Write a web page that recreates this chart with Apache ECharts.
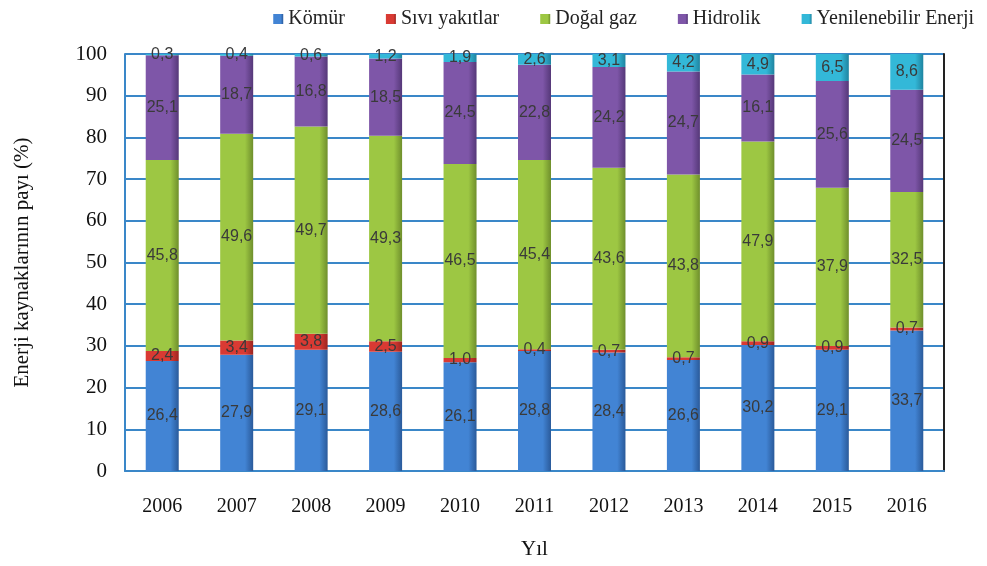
<!DOCTYPE html>
<html>
<head>
<meta charset="utf-8">
<script src="https://cdn.jsdelivr.net/npm/echarts@6/dist/echarts.min.js"></script>
<style>
html,body{margin:0;padding:0;background:#fff;}
#chart{width:987px;height:566px;}
</style>
</head>
<body>
<div id="chart"></div>
<script>
var years = ['2006','2007','2008','2009','2010','2011','2012','2013','2014','2015','2016'];
var komur = [26.4, 27.9, 29.1, 28.6, 26.1, 28.8, 28.4, 26.6, 30.2, 29.1, 33.7];
var sivi = [2.4, 3.4, 3.8, 2.5, 1.0, 0.4, 0.7, 0.7, 0.9, 0.9, 0.7];
var dogalgaz = [45.8, 49.6, 49.7, 49.3, 46.5, 45.4, 43.6, 43.8, 47.9, 37.9, 32.5];
var hidrolik = [25.1, 18.7, 16.8, 18.5, 24.5, 22.8, 24.2, 24.7, 16.1, 25.6, 24.5];
var yenilenebilir = [0.3, 0.4, 0.6, 1.2, 1.9, 2.6, 3.1, 4.2, 4.9, 6.5, 8.6];
var yTicks = [0, 10, 20, 30, 40, 50, 60, 70, 80, 90, 100];

var grad = function(light, dark){
    return new echarts.graphic.LinearGradient(0, 0, 1, 0, [
        {offset: 0, color: light},
        {offset: 0.75, color: light},
        {offset: 1, color: dark}
    ]);
};

var mkSeries = function(name, data, light, dark){
    return {
        name: name,
        type: 'bar',
        stack: 'toplam',
        barWidth: 33,
        data: data,
        itemStyle: {color: grad(light, dark)},
        label: {
            show: true,
            position: 'inside',
            color: '#3a3a3a',
            fontFamily: 'Liberation Sans',
            fontSize: 16,
            formatter: function(p){ return p.value.toFixed(1).replace('.', ','); }
        }
    };
};

var chart = echarts.init(document.getElementById('chart'));
chart.setOption({
    animation: false,
    color: ['#3d7cc9', '#d0312d', '#9bc53d', '#7a52a3', '#2fb3d3'],
    legend: {
        top: 4,
        right: 8,
        itemWidth: 10,
        itemHeight: 10,
        itemGap: 41,
        icon: 'rect',
        textStyle: {fontFamily: 'Liberation Serif', fontSize: 20, color: '#222'},
        data: ['Kömür', 'Sıvı yakıtlar', 'Doğal gaz', 'Hidrolik', 'Yenilenebilir Enerji']
    },
    grid: {left: 125, right: 43, top: 54, bottom: 95},
    xAxis: {
        type: 'category',
        data: years,
        name: 'Yıl',
        nameLocation: 'middle',
        nameGap: 68,
        nameTextStyle: {fontFamily: 'Liberation Serif', fontSize: 21, color: '#111'},
        axisLine: {lineStyle: {color: '#3a87c8', width: 2}},
        axisTick: {show: false},
        axisLabel: {fontFamily: 'Liberation Serif', fontSize: 20, color: '#111', margin: 26}
    },
    yAxis: [{
        type: 'value',
        min: yTicks[0],
        max: yTicks[yTicks.length - 1],
        interval: 10,
        name: 'Enerji kaynaklarının payı (%)',
        nameLocation: 'middle',
        nameGap: 92,
        nameTextStyle: {fontFamily: 'Liberation Serif', fontSize: 21, color: '#111'},
        axisLine: {show: true, lineStyle: {color: '#3a87c8', width: 2}},
        axisTick: {show: false},
        axisLabel: {fontFamily: 'Liberation Serif', fontSize: 21, color: '#111', margin: 18},
        splitLine: {lineStyle: {color: '#3a87c8', width: 2}}
    }, {
        type: 'value',
        position: 'right',
        min: yTicks[0],
        max: yTicks[yTicks.length - 1],
        interval: 10,
        axisLine: {show: true, lineStyle: {color: '#222', width: 2}},
        axisTick: {show: false},
        axisLabel: {show: false},
        splitLine: {show: false}
    }],
    series: [
        mkSeries('Kömür', komur, '#4284d4', '#2a5a9a'),
        mkSeries('Sıvı yakıtlar', sivi, '#d93a33', '#9c2520'),
        mkSeries('Doğal gaz', dogalgaz, '#9dc743', '#6f8f2c'),
        mkSeries('Hidrolik', hidrolik, '#7e56a8', '#553878'),
        mkSeries('Yenilenebilir Enerji', yenilenebilir, '#33b8d8', '#1f84a0')
    ]
});
</script>
</body>
</html>
